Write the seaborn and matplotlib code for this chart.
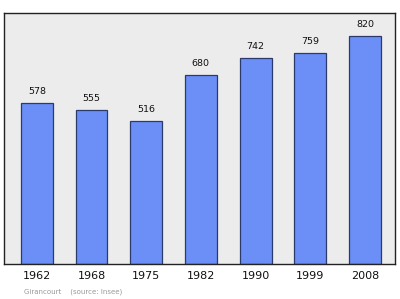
import matplotlib
matplotlib.use("Agg")
import matplotlib.pyplot as plt
import seaborn as sns
import pandas as pd

years = ["1962", "1968", "1975", "1982", "1990", "1999", "2008"]
population = [578, 555, 516, 680, 742, 759, 820]
source_note = "Girancourt    (source: Insee)"

df = pd.DataFrame({"year": years, "population": population})

sns.set_theme(style="white")
plt.rcParams["font.family"] = ["DejaVu Sans"]

fig = plt.figure(figsize=(4.0, 2.99), dpi=100)
ax = fig.add_axes([4 / 400, 1 - 264 / 299, 391 / 400, 251 / 299])
ax.set_facecolor("#ececec")

sns.barplot(data=df, x="year", y="population", ax=ax, color="#6b8ff7",
            saturation=1, width=0.585, edgecolor="#2a3a6a", linewidth=0.9)

for i, v in enumerate(population):
    ax.annotate(str(v), (i, v), xytext=(0, 5), textcoords="offset points",
                ha="center", va="bottom", fontsize=6.8, color="#111111")

ax.set_xlim(-0.6, 6.55)
ax.set_ylim(0, 903)
ax.set_yticks([])
ax.set_xlabel("")
ax.set_ylabel("")
ax.tick_params(axis="x", length=0, labelsize=8, pad=5, colors="#111111")
for s in ax.spines.values():
    s.set_visible(True)
    s.set_color("#222222")
    s.set_linewidth(1.0)

fig.text(24 / 400, 1 - 292 / 299, source_note, fontsize=5, color="#999999",
         va="center", ha="left")

fig.savefig("out.png", dpi=100)
